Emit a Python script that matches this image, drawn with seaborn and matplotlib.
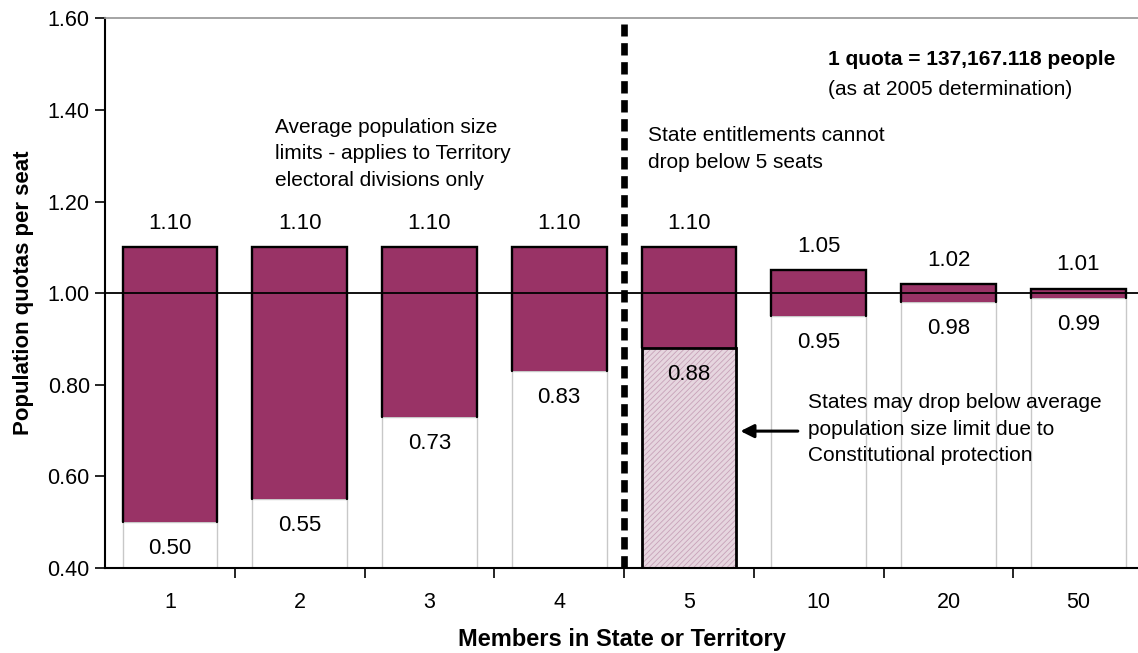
import pandas as pd
import matplotlib
matplotlib.use('Agg')
import matplotlib.pyplot as plt
import seaborn as sns

# data
members = ['1', '2', '3', '4', '5', '10', '20', '50']
upper_limit = [1.10, 1.10, 1.10, 1.10, 1.10, 1.05, 1.02, 1.01]
lower_limit = [0.50, 0.55, 0.73, 0.83, 0.88, 0.95, 0.98, 0.99]

sns.set_theme(style='white')
plt.rcParams['font.family'] = ['Liberation Sans', 'DejaVu Sans']
plt.rcParams['text.color'] = 'black'
plt.rcParams['axes.labelcolor'] = 'black'
plt.rcParams['xtick.color'] = 'black'
plt.rcParams['ytick.color'] = 'black'
plt.rcParams['hatch.linewidth'] = 0.6

df = pd.DataFrame({'members': members, 'upper': upper_limit, 'lower': lower_limit})
df['band'] = df['upper'] - df['lower']

fig = plt.figure(figsize=(11.38, 6.53), dpi=100)
ax = fig.add_axes([0.0923, 0.130, 0.9077, 0.842])

# lower (white) bars from the axis floor
sns.barplot(data=df, x='members', y='lower', ax=ax, color='white', width=0.73,
            edgecolor='#c8c8c8', linewidth=1, saturation=1, zorder=2)
low_bars = list(ax.patches)

# band between lower and upper limits (no edge, outline drawn below on 3 sides)
sns.barplot(data=df, x='members', y='band', bottom=df['lower'], ax=ax, color='#993366',
            width=0.73, linewidth=0, saturation=1, zorder=3)
band_bars = ax.patches[len(low_bars):]
for p in band_bars:
    x0, x1 = p.get_x(), p.get_x() + p.get_width()
    y0, y1 = p.get_y(), p.get_y() + p.get_height()
    ax.plot([x0, x0, x1, x1], [y0, y1, y1, y0], color='black', lw=1.7,
            solid_joinstyle='miter', zorder=3.5)

# State with 5 seats: hatched lower bar, black outline
p5 = low_bars[4]
p5.set_facecolor('#e6d6df')
p5.set_edgecolor('#c7a2b8')
p5.set_hatch('//////')
sns.barplot(data=df.iloc[[4]], x='members', y='lower', ax=ax, fill=False, width=0.73,
            edgecolor='black', linewidth=2, order=members, zorder=3.6)

ax.axhline(1.0, color='black', lw=1.3, zorder=4)
ax.axvline(3.5, color='black', lw=4.8, ls=(0, (1.85, 1.0)), ymax=0.99, zorder=5)

for i, (u, l) in enumerate(zip(upper_limit, lower_limit)):
    ax.text(i, u + 0.052, f'{u:.2f}', ha='center', va='center', fontsize=16, zorder=6)
    ax.text(i, l - 0.058, f'{l:.2f}', ha='center', va='center', fontsize=16, zorder=6)

ax.set_ylim(0.40, 1.60)
ax.set_xlim(-0.5, 7.46)
ax.set_yticks([0.4, 0.6, 0.8, 1.0, 1.2, 1.4, 1.6])
ax.set_yticklabels([f'{v:.2f}' for v in ax.get_yticks()], fontsize=15.5)
ax.set_xticks(range(len(members)))
ax.set_xticklabels(members, fontsize=15.5)
ax.set_xticks([i + 0.5 for i in range(len(members) - 1)], minor=True)
ax.tick_params(axis='x', which='major', length=0, pad=17)
ax.tick_params(axis='x', which='minor', length=7, width=1.2, color='black', direction='out', bottom=True)
ax.tick_params(axis='y', length=7, width=1.2, color='black', direction='out', left=True, pad=4)

ax.set_xlabel('Members in State or Territory', fontsize=17, fontweight='bold', labelpad=11)
ax.set_ylabel('Population quotas per seat', fontsize=16, fontweight='bold', labelpad=10)

ax.spines['right'].set_visible(False)
ax.spines['top'].set_color('#999999')
ax.spines['left'].set_color('black')
ax.spines['left'].set_linewidth(1.5)
ax.spines['bottom'].set_color('black')
ax.spines['bottom'].set_linewidth(1.5)

ax.text(0.81, 1.383, 'Average population size\nlimits - applies to Territory\nelectoral divisions only',
        fontsize=15, va='top', ha='left', linespacing=1.5)
ax.text(3.685, 1.365, 'State entitlements cannot\ndrop below 5 seats',
        fontsize=15, va='top', ha='left', linespacing=1.55)
ax.text(5.07, 1.530, '1 quota = 137,167.118 people', fontsize=15, fontweight='bold', va='top', ha='left')
ax.text(5.07, 1.465, '(as at 2005 determination)', fontsize=15, va='top', ha='left')
ax.text(4.92, 0.782, 'States may drop below average\npopulation size limit due to\nConstitutional protection',
        fontsize=15, va='top', ha='left', linespacing=1.5)
ax.annotate('', xy=(4.375, 0.699), xytext=(4.86, 0.699),
            arrowprops=dict(arrowstyle='-|>', color='black', lw=2.2, mutation_scale=20))

fig.savefig('out.png', dpi=100)
